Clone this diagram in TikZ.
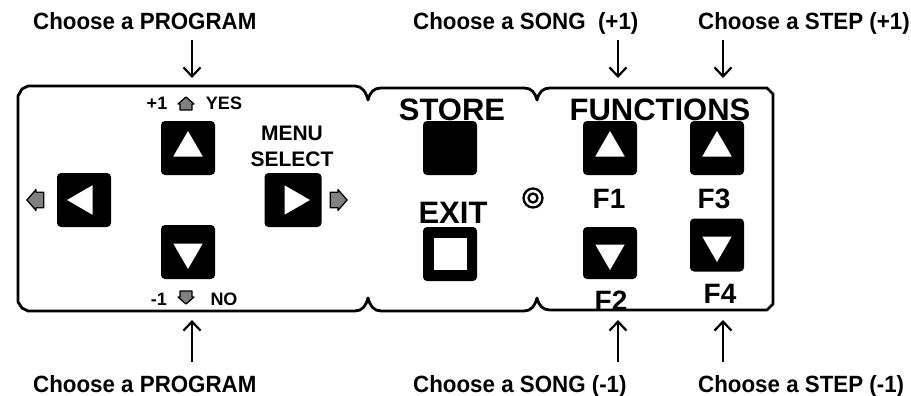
\documentclass[tikz,border=0pt]{standalone}
\usepackage{fontspec}
\setmainfont{Liberation Sans}
\newfontfamily\narrow[FakeStretch=0.95]{Liberation Sans}
\usetikzlibrary{shapes.geometric,arrows.meta}

\tikzset{
  key/.style={rectangle,rounded corners=4pt,fill=black,inner sep=0pt,
    minimum width=54pt,minimum height=54pt},
  tri/.style={regular polygon,regular polygon sides=3,fill=white,
    inner sep=0pt,minimum size=34pt},
  big/.style={font=\bfseries\fontsize{31}{31}\selectfont,inner sep=0pt,anchor=base},
  fkey/.style={font=\bfseries\fontsize{28}{28}\selectfont,inner sep=0pt,anchor=base},
  menu/.style={font=\bfseries\fontsize{21}{21}\selectfont,inner sep=0pt,anchor=base},
  tiny/.style={font=\bfseries\fontsize{18}{18}\selectfont,inner sep=0pt,anchor=base},
  call/.style={font=\narrow\bfseries\fontsize{23.5}{23.5}\selectfont,inner sep=0pt,
    anchor=base west},
  point/.style={line width=2pt,-{Straight Barb[length=9pt,width=17pt,line width=2.2pt]}},
  pics/pip/.style={code={
    \draw[fill=gray,line width=1.3pt,line join=round]
      (-6,6) -- (-6,0) -- (-8,0) -- (0,-7) -- (8,0) -- (6,0) -- (6,6) -- cycle;}}
}

\begin{document}
\begin{tikzpicture}[x=1pt,y=-1pt]
  \useasboundingbox (0,0) rectangle (911,396);
  % outline of the three panels
  \draw[line width=2.8pt,line join=round]
    (18,96) -- (22,89) -- (28,86) -- (355,86)
    .. controls (362,86) and (366,92) .. (368,100)
    .. controls (370,92) and (374,88) .. (381,88) -- (524,88)
    .. controls (531,88) and (535,92) .. (537,100)
    .. controls (539,92) and (543,88) .. (550,88) -- (767,88)
    -- (773,94) -- (773,304) -- (767,310) -- (550,310)
    .. controls (543,310) and (539,306) .. (537,298)
    .. controls (535,306) and (531,311) .. (524,311) -- (381,311)
    .. controls (374,311) and (370,306) .. (368,298)
    .. controls (366,306) and (362,311) .. (355,311) -- (28,311)
    -- (22,308) -- (18,302) -- cycle;

  % arrow keys
  \node[key]                      (up)    at (188,148) {};
  \node[key]                      (down)  at (188,252) {};
  \node[key]                      (left)  at (84,200)  {};
  \node[key,minimum width=57pt]   (right) at (293,200) {};
  \node[tri]                                at (up)    {};
  \node[tri,shape border rotate=180]        at (down)  {};
  \node[tri,shape border rotate=90]         at (left)  {};
  \node[tri,shape border rotate=270]        at (right) {};
  \node[tiny]   (plus)  at (157,110) {+1};
  \pic          (pipu)  at (186,104) {pip};
  \node[tiny]   (yes)   at (224,110) {YES};
  \node[tiny]   (minus) at (159,305) {-1};
  \pic[rotate=180] (pipd) at (186,297) {pip};
  \node[tiny]   (no)    at (224,305) {NO};
  \pic[rotate=90,scale=1.3]  (pipl) at (36,200)  {pip};
  \pic[rotate=-90,scale=1.3] (pipr) at (338,200) {pip};
  \node[menu]   (menu)  at (292,140) {MENU};
  \node[menu]   (sel)   at (292,166) {SELECT};

  % store / exit
  \node[big]    (store) at (452,121) {STORE};
  \node[key]    (kst)   at (450,148) {};
  \node[big]    (exit)  at (453,223) {EXIT};
  \node[key]    (kex)   at (450,254) {};
  \node[fill=white,minimum width=33pt,minimum height=32pt,inner sep=0pt]
                        at (kex) {};
  \draw[line width=2.3pt] (533,198) circle (9.5pt) circle (4.5pt);

  % function keys
  \node[big]    (func)  at (660,121) {FUNCTIONS};
  \node[key]    (f1)    at (610,148) {};
  \node[key]    (f3)    at (717,148) {};
  \node[key,minimum height=52pt] (f2) at (610,253) {};
  \node[key,minimum height=53pt] (f4) at (717,245) {};
  \node[tri]                                at (f1) {};
  \node[tri]                                at (f3) {};
  \node[tri,shape border rotate=180]        at (f2) {};
  \node[tri,shape border rotate=180]        at (f4) {};
  \node[fkey]   (l1)    at (609,208) {F1};
  \node[fkey]   (l3)    at (714,208) {F3};
  \node[fkey]   (l2)    at (611,310) {F2};
  \node[fkey]   (l4)    at (720,303) {F4};

  % callouts
  \node[call]   (progt) at (33,30)   {Choose a PROGRAM};
  \node[call]   (songt) at (413,30)  {Choose a SONG\ \ (+1)};
  \node[call]   (stept) at (698,30)  {Choose a STEP (+1)};
  \node[call]   (progb) at (33,392)  {Choose a PROGRAM};
  \node[call]   (songb) at (413,392) {Choose a SONG (-1)};
  \node[call]   (stepb) at (698,392) {Choose a STEP (-1)};
  \coordinate (pt1) at (192,40);  \coordinate (pt2) at (192,78);
  \coordinate (st1) at (618,40);  \coordinate (st2) at (618,78);
  \coordinate (et1) at (723,40);  \coordinate (et2) at (723,78);
  \coordinate (pb1) at (192,362); \coordinate (pb2) at (192,320);
  \coordinate (sb1) at (618,362); \coordinate (sb2) at (618,320);
  \coordinate (eb1) at (723,362); \coordinate (eb2) at (723,320);
  \draw[point] (pt1) -- (pt2);
  \draw[point] (st1) -- (st2);
  \draw[point] (et1) -- (et2);
  \draw[point] (pb1) -- (pb2);
  \draw[point] (sb1) -- (sb2);
  \draw[point] (eb1) -- (eb2);
\end{tikzpicture}
\end{document}
